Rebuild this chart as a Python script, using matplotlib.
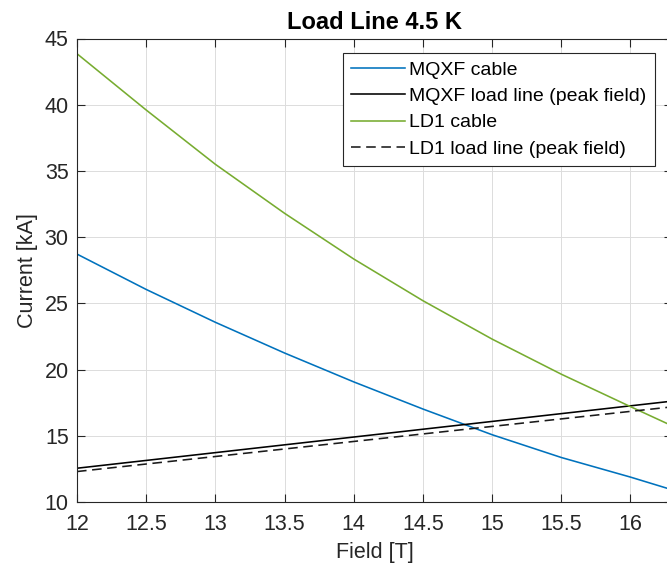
import matplotlib
matplotlib.use("Agg")
import matplotlib.pyplot as plt
from matplotlib.ticker import FuncFormatter, MultipleLocator

# ---- data ----
field = [12.0, 12.5, 13.0, 13.5, 14.0, 14.5, 15.0, 15.5, 16.0, 16.27]
mqxf_cable = [28.72, 26.05, 23.57, 21.25, 19.07, 17.02, 15.08, 13.36, 11.88, 11.02]
ld1_cable = [43.85, 39.6, 35.5, 31.8, 28.35, 25.2, 22.3, 19.65, 17.2, 15.9]
loadline_field = [12.0, 16.27]
mqxf_loadline = [12.55, 17.58]
ld1_loadline = [12.3, 17.15]

labels = ["MQXF cable", "MQXF load line (peak field)", "LD1 cable",
          "LD1 load line (peak field)"]
title = "Load Line 4.5 K"
xlabel = "Field [T]"
ylabel = "Current [kA]"

plt.rcParams['font.family'] = ['Liberation Sans', 'DejaVu Sans']

W, H = 667, 571
fig = plt.figure(figsize=(W / 100, H / 100), dpi=100)
left, right, top, bottom = 77, 672, 38.5, 502
ax = fig.add_axes([left / W, (H - bottom) / H, (right - left) / W, (bottom - top) / H])

lw = 1.15
ax.plot(field, mqxf_cable, color="#0072BD", lw=lw, label=labels[0])
ax.plot(loadline_field, mqxf_loadline, color="black", lw=lw, label=labels[1])
ax.plot(field, ld1_cable, color="#77AC30", lw=lw, label=labels[2])
ax.plot(loadline_field, ld1_loadline, color="#1a1a1a", lw=lw, ls=(0, (6, 3.5)), label=labels[3])

ax.set_xlim(12, 16.30)
ax.set_ylim(10, 45)
ax.xaxis.set_major_locator(MultipleLocator(0.5))
ax.yaxis.set_major_locator(MultipleLocator(5))
ax.xaxis.set_major_formatter(FuncFormatter(lambda v, p: f"{v:g}"))
ax.yaxis.set_major_formatter(FuncFormatter(lambda v, p: f"{v:g}"))

ax.grid(True, color="#dcdcdc", lw=0.7)
ax.set_axisbelow(True)
for s in ax.spines.values():
    s.set_color("#262626")
    s.set_linewidth(0.8)
ax.tick_params(direction="in", length=6, width=0.8, color="#262626",
               labelcolor="#262626", labelsize=15.5, top=True, right=True)
ax.tick_params(axis="x", pad=9)
ax.tick_params(axis="y", pad=6)

ax.set_title(title, fontsize=17, fontweight="bold", pad=7)
ax.set_xlabel(xlabel, fontsize=15.5, color="#262626", labelpad=5)
ax.set_ylabel(ylabel, fontsize=15.5, color="#262626", labelpad=5)

leg = ax.legend(loc="upper right", bbox_to_anchor=(0.971, 0.969), borderaxespad=0,
                fontsize=14, frameon=True, fancybox=False, framealpha=1,
                edgecolor="#262626", handlelength=2.8, handletextpad=0.2,
                labelspacing=0.45, borderpad=0.42)
leg.get_frame().set_linewidth(0.8)

fig.savefig("out.png", dpi=100)
